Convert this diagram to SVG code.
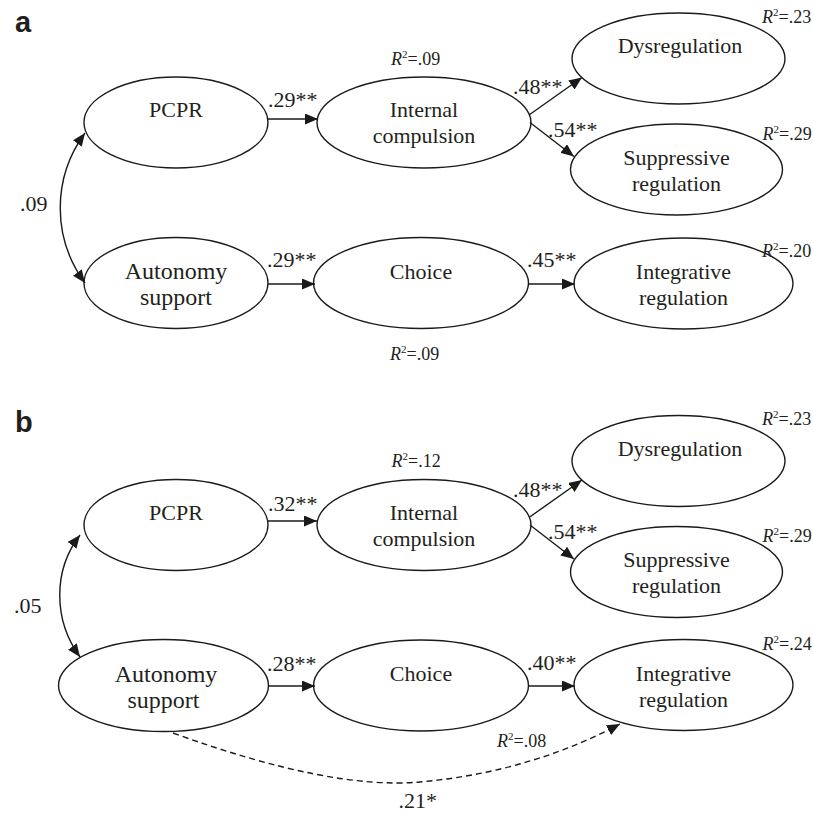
<svg xmlns="http://www.w3.org/2000/svg" width="813" height="814" viewBox="0 0 813 814">
<defs>
<marker id="ah" markerUnits="userSpaceOnUse" markerWidth="13" markerHeight="11" refX="13" refY="5.5" orient="auto-start-reverse">
<path d="M0,0 L13,5.5 L0,11 Z" fill="#1a1a1a"/>
</marker>
<style>
.n{fill:#fff;stroke:#1a1a1a;stroke-width:1.4}
.t{font-family:"Liberation Serif","Times New Roman",serif;font-size:22px;fill:#231f20;text-anchor:middle}
.t24{font-size:24px}
.c{font-family:"Liberation Serif","Times New Roman",serif;font-size:22px;fill:#231f20}
.r{font-family:"Liberation Serif","Times New Roman",serif;font-size:18px;fill:#231f20}
.p{font-family:"Liberation Sans",Arial,sans-serif;font-size:29px;font-weight:bold;fill:#231f20}
.e{fill:none;stroke:#1a1a1a;stroke-width:1.4}
.d{fill:none;stroke:#1a1a1a;stroke-width:1.4;stroke-dasharray:6 4}
</style>
</defs>
<rect width="813" height="814" fill="#fff"/>

<text class="p" x="15" y="32">a</text>
<text class="p" x="15" y="432">b</text>

<!-- Panel a nodes -->
<g id="a-pcpr"><ellipse class="n" cx="176" cy="122.5" rx="92" ry="45.5"/><text class="t" x="176" y="117">PCPR</text></g>
<g id="a-internal"><ellipse class="n" cx="424" cy="122.5" rx="107" ry="45.5"/><text class="t" x="424" y="117">Internal</text><text class="t" x="424" y="143">compulsion</text></g>
<g id="a-dysreg"><ellipse class="n" cx="678.5" cy="58.5" rx="106.5" ry="45.5"/><text class="t" x="680" y="53">Dysregulation</text></g>
<g id="a-suppress"><ellipse class="n" cx="676.5" cy="169.5" rx="106" ry="45.5"/><text class="t" x="676.5" y="164.5">Suppressive</text><text class="t" x="676.5" y="190.5">regulation</text></g>
<g id="a-autonomy"><ellipse class="n" cx="176" cy="283" rx="92" ry="45.5"/><text class="t t24" x="176" y="279">Autonomy</text><text class="t t24" x="176" y="305">support</text></g>
<g id="a-choice"><ellipse class="n" cx="421" cy="283" rx="107.5" ry="45.5"/><text class="t" x="421" y="278.5">Choice</text></g>
<g id="a-integr"><ellipse class="n" cx="683.5" cy="283.5" rx="109.5" ry="45.5"/><text class="t" x="683.5" y="278.5">Integrative</text><text class="t" x="683.5" y="304.5">regulation</text></g>

<!-- Panel b nodes -->
<g id="b-pcpr"><ellipse class="n" cx="176" cy="525" rx="92" ry="45.5"/><text class="t" x="176" y="519.5">PCPR</text></g>
<g id="b-internal"><ellipse class="n" cx="424" cy="525" rx="107" ry="45.5"/><text class="t" x="424" y="519.5">Internal</text><text class="t" x="424" y="545.5">compulsion</text></g>
<g id="b-dysreg"><ellipse class="n" cx="678.5" cy="461" rx="106.5" ry="45.5"/><text class="t" x="680" y="455.5">Dysregulation</text></g>
<g id="b-suppress"><ellipse class="n" cx="676.5" cy="572" rx="106" ry="45.5"/><text class="t" x="676.5" y="567">Suppressive</text><text class="t" x="676.5" y="593">regulation</text></g>
<g id="b-autonomy"><ellipse class="n" cx="163.5" cy="685.5" rx="105" ry="46"/><text class="t t24" x="166" y="681.5">Autonomy</text><text class="t t24" x="163.5" y="707.5">support</text></g>
<g id="b-choice"><ellipse class="n" cx="421" cy="685.5" rx="107.5" ry="45.5"/><text class="t" x="421" y="681">Choice</text></g>
<g id="b-integr"><ellipse class="n" cx="683.5" cy="685" rx="109.5" ry="45.5"/><text class="t" x="683.5" y="681">Integrative</text><text class="t" x="683.5" y="706.5">regulation</text></g>

<!-- Connectors -->
<g id="connectors">
<path class="e" d="M85,133 C52,178 52,238 85,283" marker-start="url(#ah)" marker-end="url(#ah)"/>
<line class="e" x1="268" y1="119" x2="318" y2="119" marker-end="url(#ah)"/>
<line class="e" x1="529" y1="115" x2="582" y2="77.5" marker-end="url(#ah)"/>
<line class="e" x1="530" y1="122.5" x2="574" y2="156.5" marker-end="url(#ah)"/>
<line class="e" x1="268" y1="284" x2="315" y2="284" marker-end="url(#ah)"/>
<line class="e" x1="528" y1="284" x2="575" y2="284" marker-end="url(#ah)"/>

<path class="e" d="M80,535 C53,570 53,620 80,657" marker-start="url(#ah)" marker-end="url(#ah)"/>
<line class="e" x1="268" y1="521" x2="317" y2="521" marker-end="url(#ah)"/>
<line class="e" x1="529" y1="517.5" x2="582" y2="480" marker-end="url(#ah)"/>
<line class="e" x1="530" y1="525" x2="574" y2="559" marker-end="url(#ah)"/>
<line class="e" x1="268" y1="686" x2="315" y2="686" marker-end="url(#ah)"/>
<line class="e" x1="528" y1="686" x2="575" y2="686" marker-end="url(#ah)"/>
<path class="d" d="M173,733 Q330,790 420,782 Q530,772 620,724" marker-end="url(#ah)"/>
</g>

<!-- Path coefficients -->
<g id="coefficients">
<text class="c" x="268" y="107">.29**</text>
<text class="c" x="513" y="94">.48**</text>
<text class="c" x="548" y="136.5">.54**</text>
<text class="c" x="267" y="266.5">.29**</text>
<text class="c" x="527" y="266.5">.45**</text>
<text class="c" x="20" y="210.5">.09</text>

<text class="c" x="268" y="510.5">.32**</text>
<text class="c" x="513" y="496.5">.48**</text>
<text class="c" x="548" y="538.5">.54**</text>
<text class="c" x="267" y="670.5">.28**</text>
<text class="c" x="527" y="669.5">.40**</text>
<text class="c" x="14" y="613">.05</text>
<text class="c" x="398.5" y="808">.21*</text>
</g>

<!-- R squared -->
<g id="r2">
<text class="r" x="391" y="65"><tspan font-style="italic">R</tspan><tspan font-size="11" dy="-7">2</tspan><tspan dy="7">=.09</tspan></text>
<text class="r" x="762" y="22.5"><tspan font-style="italic">R</tspan><tspan font-size="11" dy="-7">2</tspan><tspan dy="7">=.23</tspan></text>
<text class="r" x="762.5" y="140"><tspan font-style="italic">R</tspan><tspan font-size="11" dy="-7">2</tspan><tspan dy="7">=.29</tspan></text>
<text class="r" x="762" y="256.5"><tspan font-style="italic">R</tspan><tspan font-size="11" dy="-7">2</tspan><tspan dy="7">=.20</tspan></text>
<text class="r" x="390" y="360"><tspan font-style="italic">R</tspan><tspan font-size="11" dy="-7">2</tspan><tspan dy="7">=.09</tspan></text>

<text class="r" x="391.5" y="467"><tspan font-style="italic">R</tspan><tspan font-size="11" dy="-7">2</tspan><tspan dy="7">=.12</tspan></text>
<text class="r" x="762" y="425"><tspan font-style="italic">R</tspan><tspan font-size="11" dy="-7">2</tspan><tspan dy="7">=.23</tspan></text>
<text class="r" x="762.5" y="542"><tspan font-style="italic">R</tspan><tspan font-size="11" dy="-7">2</tspan><tspan dy="7">=.29</tspan></text>
<text class="r" x="762.5" y="650"><tspan font-style="italic">R</tspan><tspan font-size="11" dy="-7">2</tspan><tspan dy="7">=.24</tspan></text>
<text class="r" x="497" y="746.5"><tspan font-style="italic">R</tspan><tspan font-size="11" dy="-7">2</tspan><tspan dy="7">=.08</tspan></text>
</g>
</svg>
